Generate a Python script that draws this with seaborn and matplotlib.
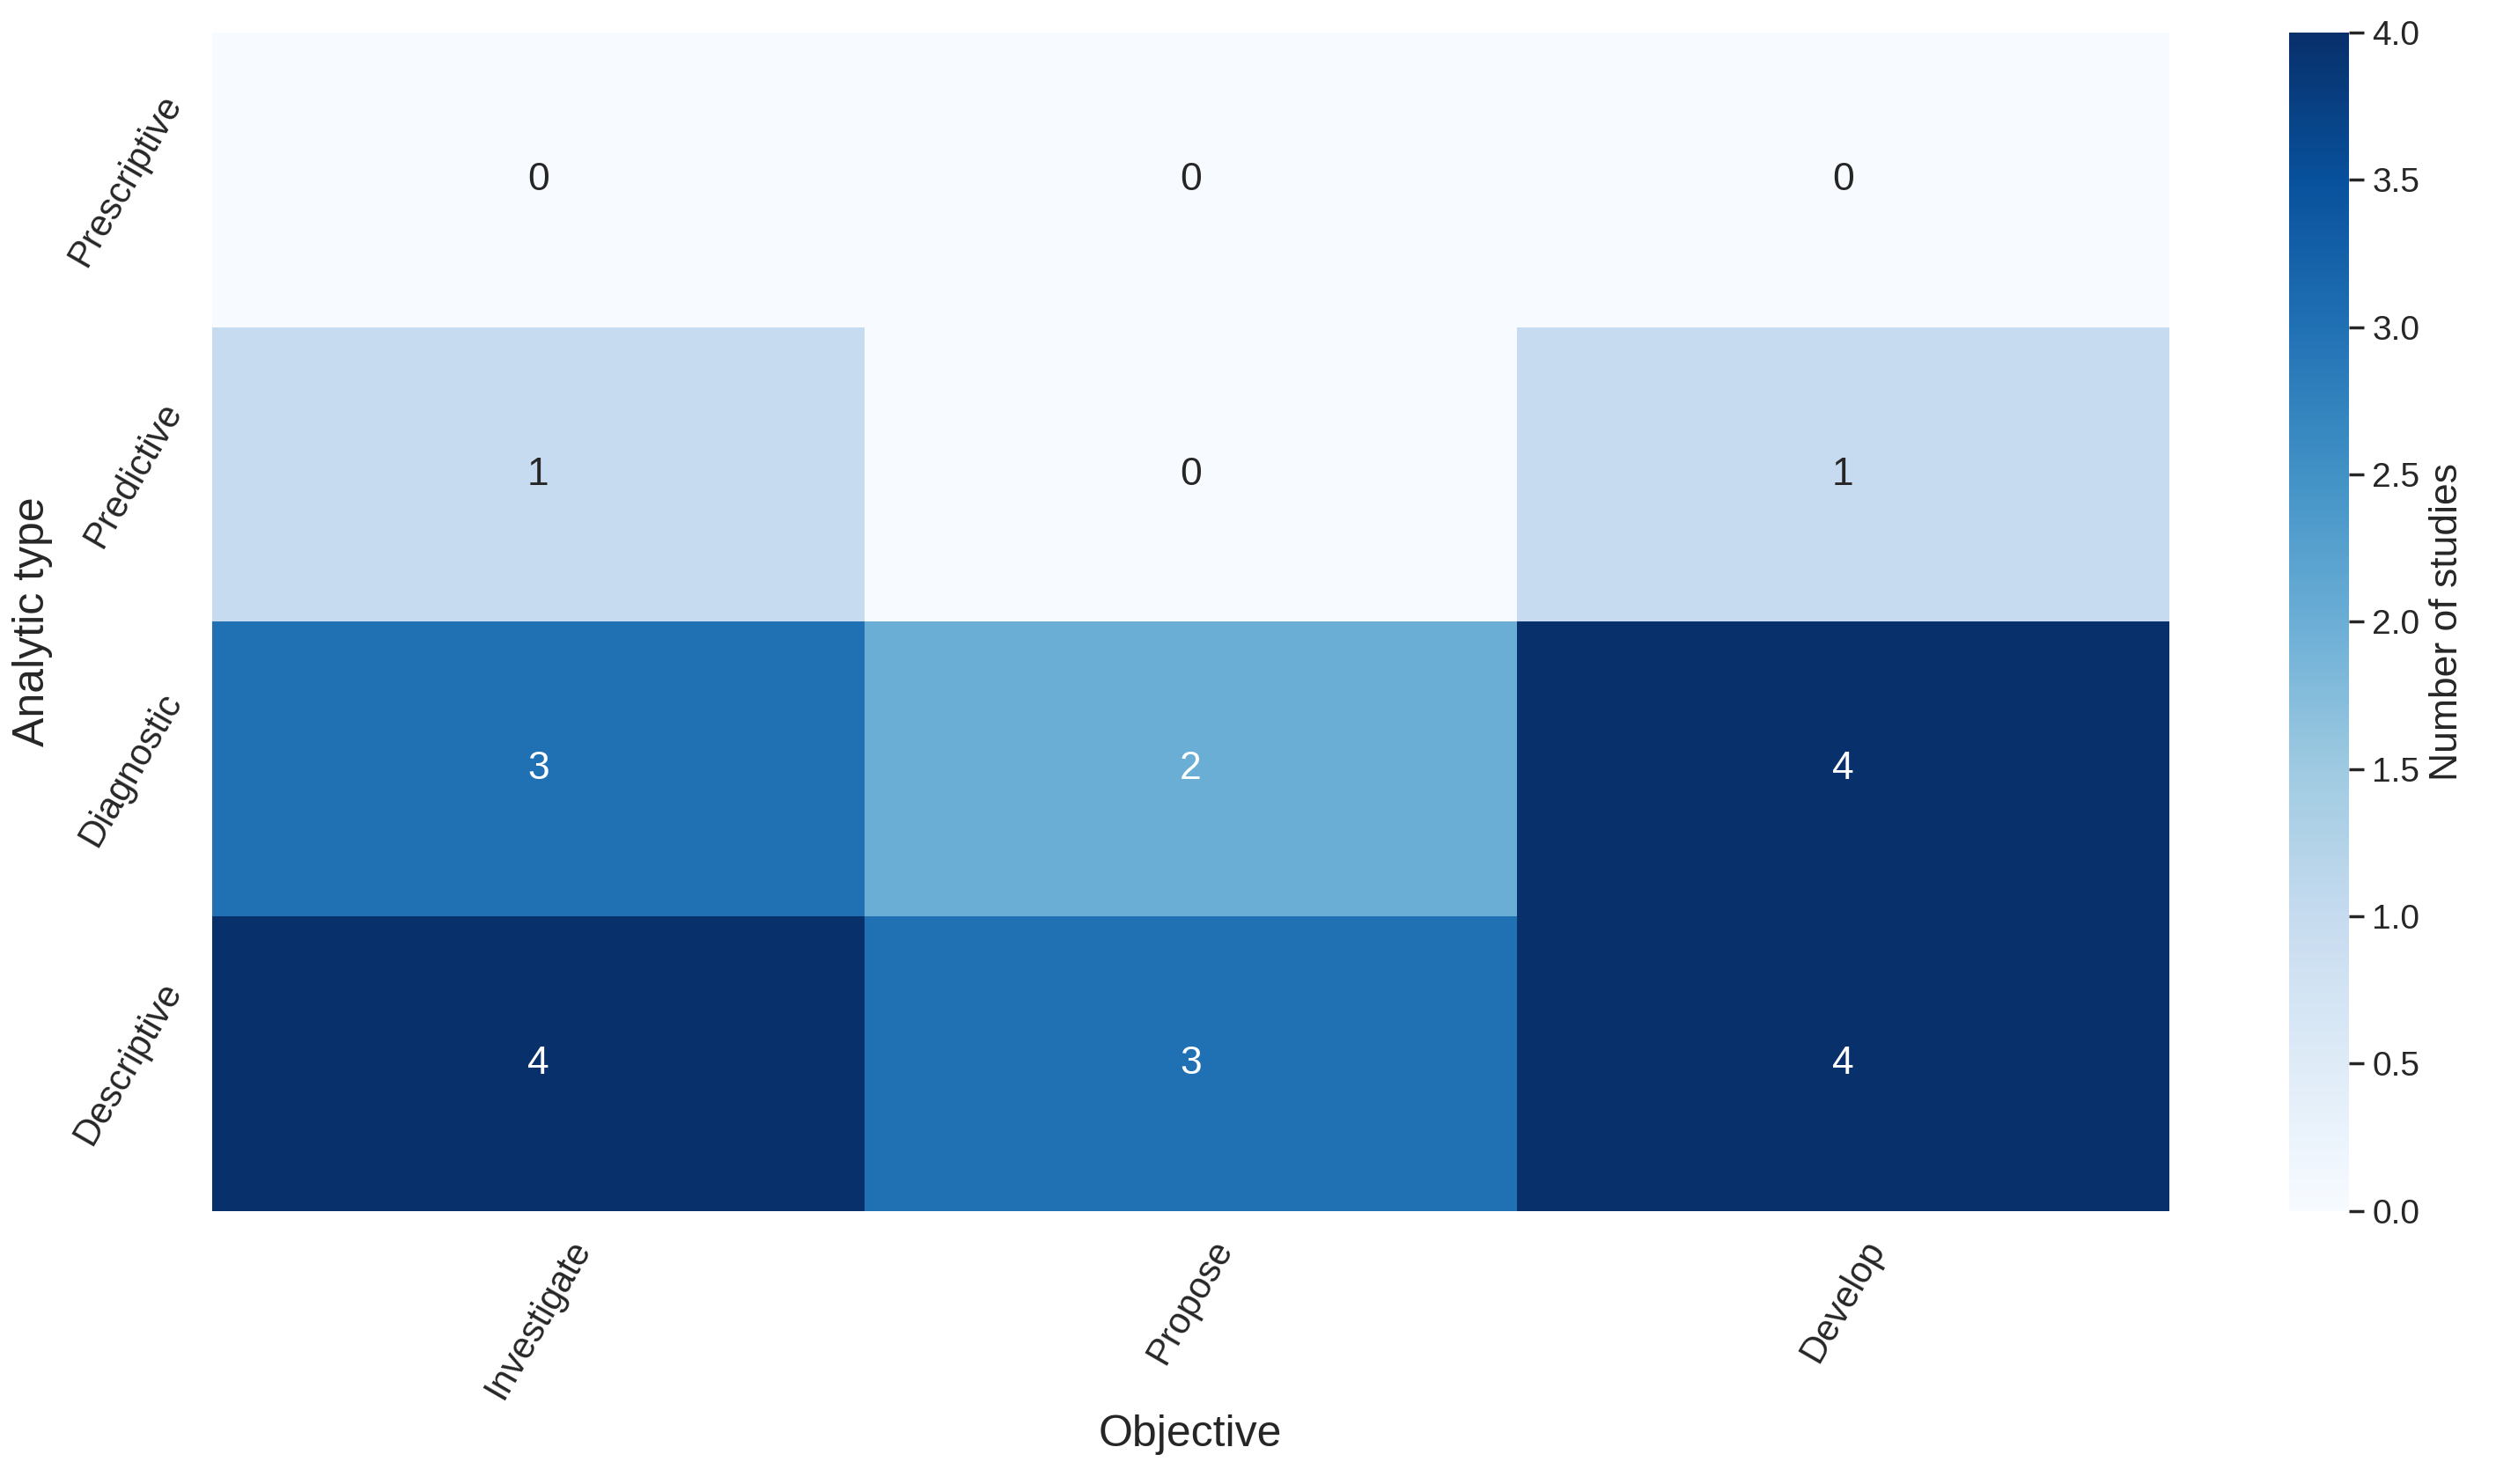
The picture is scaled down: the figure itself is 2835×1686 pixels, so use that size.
import pandas as pd
import seaborn as sns
import matplotlib.pyplot as plt

# Study counts per analytic type / objective
analytic_types = ["Prescriptive", "Predictive", "Diagnostic", "Descriptive"]
objectives = ["Investigate", "Propose", "Develop"]
investigate = [0, 1, 3, 4]
propose = [0, 0, 2, 3]
develop = [0, 1, 4, 4]

counts = pd.DataFrame(
    {"Investigate": investigate, "Propose": propose, "Develop": develop},
    index=analytic_types,
)[objectives]

sns.set_theme(style="white")
plt.rcParams['font.family'] = ['Liberation Sans', 'DejaVu Sans']

fig = plt.figure(figsize=(14.175, 8.43), dpi=200)
ax = fig.add_axes([0.085, 0.184, 0.784, 0.794])
cax = fig.add_axes([0.917, 0.184, 0.024, 0.794])

sns.heatmap(
    counts,
    cmap="Blues",
    vmin=0, vmax=4,
    annot=True, fmt="d",
    annot_kws={"fontsize": 16},
    ax=ax, cbar_ax=cax,
    cbar_kws={'label': 'Number of studies'}
)
ax.set_xlabel("Objective", fontsize=18)
ax.set_ylabel("Analytic type", fontsize=18)
ax.tick_params(axis="both", labelsize=15)
plt.setp(ax.get_xticklabels(), rotation=60)
plt.setp(ax.get_yticklabels(), rotation=60, va="center")
cax.tick_params(labelsize=14)
cax.set_ylabel("Number of studies", fontsize=16)

plt.savefig("out.png", dpi=200)
